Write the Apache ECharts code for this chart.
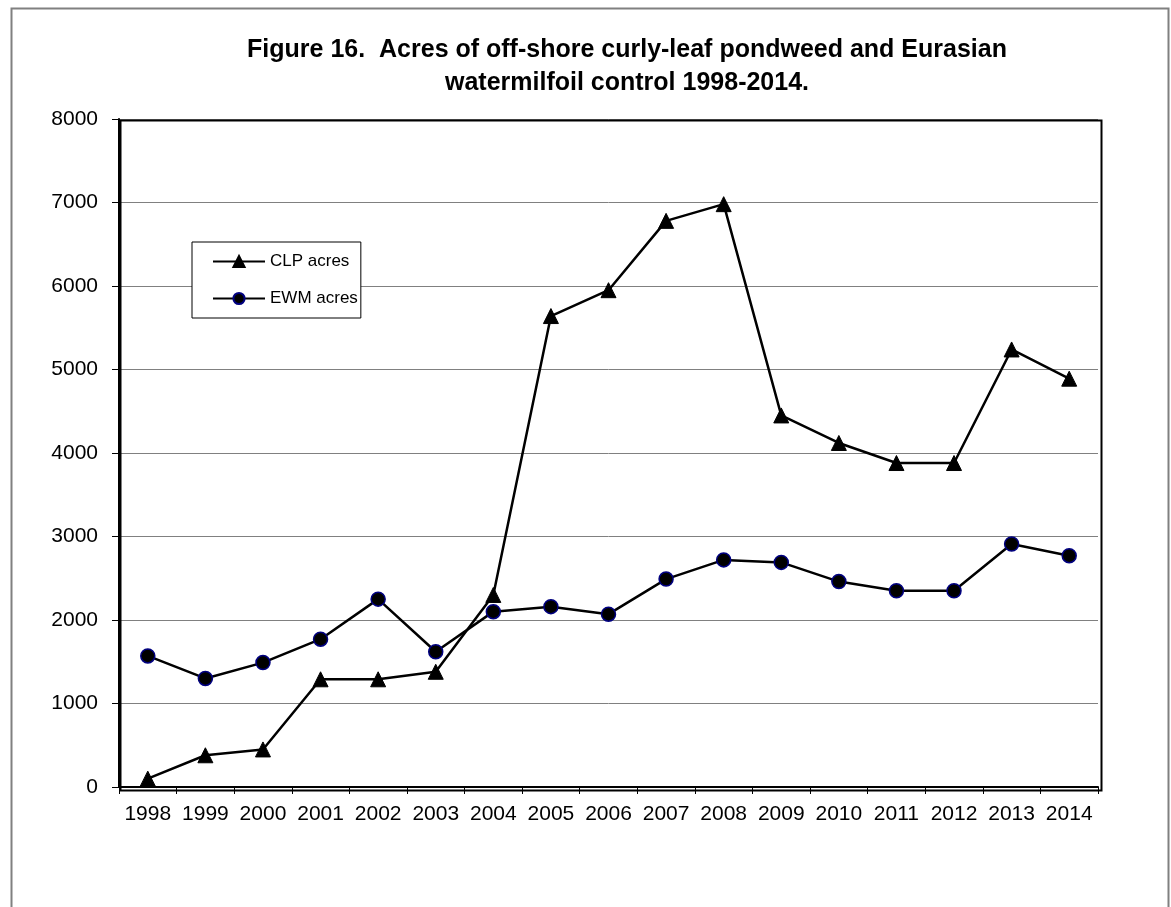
<!DOCTYPE html>
<html>
<head>
<meta charset="utf-8">
<title>Figure 16</title>
<script src="https://cdn.jsdelivr.net/npm/echarts@6/dist/echarts.min.js"></script>
<style>
  html, body { margin: 0; padding: 0; background: #fff; }
  #chart { width: 1171px; height: 907px; }
</style>
</head>
<body>
<div id="chart"></div>
<script>
// Years of treatment
const years = ['1998','1999','2000','2001','2002','2003','2004','2005','2006',
               '2007','2008','2009','2010','2011','2012','2013','2014'];

// Acres of curly-leaf pondweed (CLP) controlled
const clpAcres = [100, 380, 450, 1290, 1290, 1380, 2300, 5640, 5950,
                  6780, 6980, 4450, 4120, 3880, 3880, 5240, 4890];

// Acres of Eurasian watermilfoil (EWM) controlled
const ewmAcres = [1570, 1300, 1490, 1770, 2250, 1620, 2100, 2160, 2070,
                  2490, 2720, 2690, 2460, 2350, 2350, 2910, 2770];

const titleLines = [
  'Figure 16.  Acres of off-shore curly-leaf pondweed and Eurasian',
  'watermilfoil control 1998-2014.'
];

const FONT = '"Liberation Sans", Arial, sans-serif';

const chart = echarts.init(document.getElementById('chart'), null, { renderer: 'canvas' });

chart.setOption({
  backgroundColor: '#ffffff',
  animation: false,
  textStyle: { fontFamily: FONT, color: '#000' },
  title: {
    text: titleLines.join('\n'),
    left: 622,
    textAlign: 'center',
    top: 29,
    textStyle: {
      fontFamily: FONT,
      fontWeight: 'bold',
      fontSize: 25,
      lineHeight: 33,
      color: '#000'
    }
  },
  graphic: [
    {
      // outer chart border
      type: 'rect',
      left: 9, top: 6,
      shape: { width: 1157, height: 920 },
      style: { fill: 'none', stroke: '#808080', lineWidth: 2 },
      silent: true,
      z: -10
    },
    {
      // frame around the plotting area
      type: 'rect',
      left: 118, top: 118,
      shape: { width: 981, height: 670 },
      style: { fill: 'none', stroke: '#000', lineWidth: 2 },
      silent: true,
      z: 5
    }
  ],
  legend: {
    orient: 'vertical',
    left: 192,
    top: 242,
    backgroundColor: '#fff',
    borderColor: '#000',
    borderWidth: 1,
    borderRadius: 0,
    padding: [11, 3, 11, 20],
    itemGap: 20,
    itemWidth: 52,
    itemHeight: 14,
    textStyle: { fontFamily: FONT, fontSize: 17, color: '#000' },
    data: ['CLP acres', 'EWM acres'],
    z: 10
  },
  grid: {
    left: 119,
    right: 73,
    top: 119,
    bottom: 120,
    containLabel: false
  },
  xAxis: {
    type: 'category',
    data: years,
    boundaryGap: true,
    axisLine: { show: true, lineStyle: { color: '#000', width: 2 } },
    axisTick: { show: true, alignWithLabel: false, length: 7, lineStyle: { color: '#000', width: 1 } },
    axisLabel: {
      interval: 0,
      margin: 17,
      fontFamily: FONT,
      fontSize: 21,
      color: '#000'
    },
    splitLine: { show: false }
  },
  yAxis: {
    type: 'value',
    min: 0,
    max: 8000,
    interval: 1000,
    axisLine: { show: true, lineStyle: { color: '#000', width: 2 } },
    axisTick: { show: true, length: 7, lineStyle: { color: '#000', width: 1 } },
    axisLabel: {
      margin: 21,
      fontFamily: FONT,
      fontSize: 21,
      color: '#000',
      formatter: (v) => String(v)
    },
    splitLine: { show: true, lineStyle: { color: '#808080', width: 1 } }
  },
  series: [
    {
      name: 'CLP acres',
      type: 'line',
      data: clpAcres,
      symbol: 'triangle',
      symbolSize: 15,
      showAllSymbol: true,
      lineStyle: { color: '#000', width: 2.5 },
      itemStyle: { color: '#000', borderColor: '#000', borderWidth: 1 },
      z: 3
    },
    {
      name: 'EWM acres',
      type: 'line',
      data: ewmAcres,
      symbol: 'circle',
      symbolSize: 14,
      showAllSymbol: true,
      lineStyle: { color: '#000', width: 2.5 },
      itemStyle: { color: '#000', borderColor: '#000080', borderWidth: 1.5 },
      z: 4
    }
  ]
});
</script>
</body>
</html>
